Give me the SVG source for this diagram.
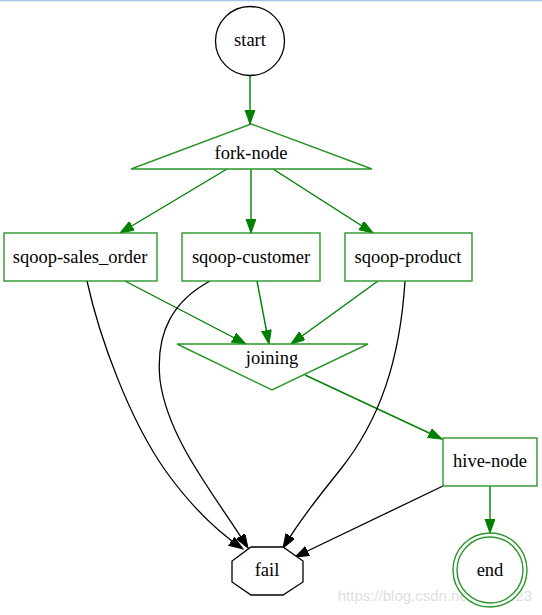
<svg xmlns="http://www.w3.org/2000/svg" width="542" height="615" viewBox="0 0 542 615">
<style>
.t{font-family:'Liberation Serif','Times New Roman','DejaVu Serif',serif;font-size:18.5px;fill:#000;text-anchor:middle}
.g{fill:#fff;stroke:#2a962a;stroke-width:1.4}
.k{fill:#fff;stroke:#000;stroke-width:1.3}
.eg{fill:none;stroke:#008000;stroke-width:1.4}
.ek{fill:none;stroke:#000;stroke-width:1.3}
.wm{font-family:'Liberation Sans',Arial,sans-serif;font-size:15px;fill:#e0e0e0;text-anchor:end}
</style>
<defs>
<marker id="ag" markerUnits="userSpaceOnUse" markerWidth="15" markerHeight="11" refX="14" refY="5" orient="auto"><path d="M0,0 L14,5 L0,10 z" fill="#008000" stroke="#008000" stroke-width="1"/></marker>
<marker id="ak" markerUnits="userSpaceOnUse" markerWidth="15" markerHeight="11" refX="14" refY="5" orient="auto"><path d="M0,0 L14,5 L0,10 z" fill="#000" stroke="#000" stroke-width="1"/></marker>
</defs>
<rect width="542" height="615" fill="#fff"/>
<line x1="0" y1="0.5" x2="542" y2="0.5" stroke="#a4c6ea" stroke-width="1.5"/>
<text class="wm" x="532" y="601">https://blog.csdn.net/zzy0623</text>
<g id="edges">
<path class="eg" d="M250,76 L250,124" marker-end="url(#ag)"/>
<path class="eg" d="M227,169 L120,233" marker-end="url(#ag)"/>
<path class="eg" d="M251,169 L251,233" marker-end="url(#ag)"/>
<path class="eg" d="M273,169 L373,233" marker-end="url(#ag)"/>
<path class="eg" d="M125,281 L246,344" marker-end="url(#ag)"/>
<path class="eg" d="M257,281 L269,344" marker-end="url(#ag)"/>
<path class="eg" d="M378,281 L291,344" marker-end="url(#ag)"/>
<path class="eg" d="M305,375 L442,439" marker-end="url(#ag)"/>
<path class="eg" d="M490,486 L490,533" marker-end="url(#ag)"/>
<path class="ek" d="M87,281 C100,340 130,420 165,470 C190,505 215,530 243,549" marker-end="url(#ak)"/>
<path class="ek" d="M210,281 C175,300 155,330 160,380 C168,440 215,495 248,548" marker-end="url(#ak)"/>
<path class="ek" d="M405,281 C400,360 380,420 340,470 C320,495 300,520 283,548" marker-end="url(#ak)"/>
<path class="ek" d="M443,486 L295,557" marker-end="url(#ak)"/>
</g>
<g id="start"><circle class="k" cx="250" cy="41" r="34.5"/><text class="t" x="250" y="46">start</text></g>
<g id="fork-node"><polygon class="g" points="251,124 372,169 131,169"/><text class="t" x="251" y="159">fork-node</text></g>
<g id="sqoop-sales_order"><rect class="g" x="4" y="233" width="153" height="48"/><text class="t" x="80" y="263">sqoop-sales_order</text></g>
<g id="sqoop-customer"><rect class="g" x="182" y="233" width="138" height="48"/><text class="t" x="251" y="263">sqoop-customer</text></g>
<g id="sqoop-product"><rect class="g" x="345" y="233" width="127" height="48"/><text class="t" x="408" y="263">sqoop-product</text></g>
<g id="joining"><polygon class="g" points="177,344 368,344 272,390"/><text class="t" x="272" y="364">joining</text></g>
<g id="hive-node"><rect class="g" x="443" y="438" width="94" height="48"/><text class="t" x="490" y="467">hive-node</text></g>
<g id="end"><circle class="g" cx="490" cy="570" r="37" fill="none"/><circle class="g" cx="490" cy="570" r="33" fill="none"/><text class="t" x="490" y="576">end</text></g>
<g id="fail"><polygon class="k" points="251,547 283,547 303,561 303,582 283,595 251,595 232,582 232,561"/><text class="t" x="267" y="576">fail</text></g>
</svg>
